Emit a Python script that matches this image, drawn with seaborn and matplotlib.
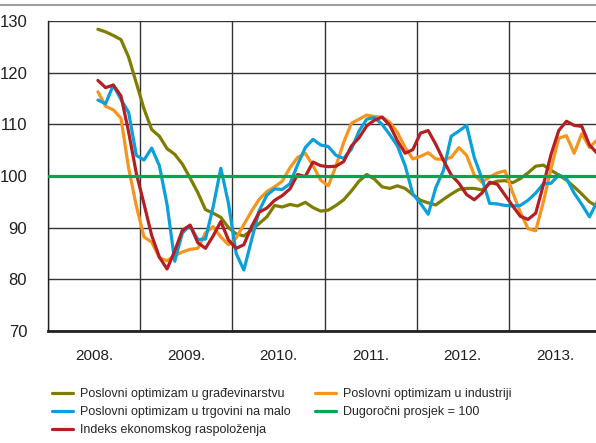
import numpy as np
import pandas as pd
import matplotlib
matplotlib.use("Agg")
import matplotlib.pyplot as plt
from matplotlib.lines import Line2D
from matplotlib.ticker import FixedLocator, NullFormatter
import seaborn as sns

# monthly observations, July 2008 .. December 2013
start_year = 2008
start_month = 7
years = [2008, 2009, 2010, 2011, 2012, 2013]
year_labels = ["2008.", "2009.", "2010.", "2011.", "2012.", "2013."]

construction = [128.4, 127.9, 127.2, 126.4, 123.0, 118.0,
                113.0, 109.0, 107.7, 105.3, 104.2, 102.3, 99.6, 96.8, 93.5, 92.8, 92.0, 90.0,
                88.8, 88.4, 89.5, 90.8, 92.1, 94.3, 94.0, 94.5, 94.2, 94.9, 93.9, 93.2,
                93.4, 94.3, 95.4, 97.1, 99.0, 100.3, 99.4, 97.9, 97.6, 98.1, 97.6, 96.4,
                95.3, 94.8, 94.4, 95.5, 96.5, 97.4, 97.6, 97.6, 97.3, 98.5, 99.0, 99.1,
                98.7, 99.5, 100.6, 101.9, 102.1, 101.1, 100.2, 99.2, 97.9, 96.5, 95.0, 94.1]

industry = [116.3, 113.5, 112.8, 111.2, 101.5, 94.2,
            88.2, 87.2, 84.2, 83.6, 84.6, 85.3, 85.8, 86.0, 89.0, 90.2, 88.2, 86.7,
            88.0, 90.6, 93.2, 95.5, 97.0, 97.9, 99.0, 101.6, 103.6, 104.4, 102.0, 99.2,
            98.1, 102.0, 106.5, 110.2, 111.0, 111.8, 111.5, 111.4, 110.4, 108.4, 105.5, 103.3,
            103.8, 104.5, 103.3, 103.2, 103.6, 105.5, 104.0, 100.2, 98.8, 99.8, 100.6, 101.0,
            96.8, 93.0, 89.8, 89.4, 95.0, 101.5, 107.3, 107.8, 104.4, 108.2, 105.5, 107.0]

retail = [114.7, 114.0, 117.6, 114.8, 112.3, 104.0,
          103.1, 105.4, 102.0, 94.5, 83.5, 89.0, 90.4, 87.7, 87.8, 94.0, 101.5, 94.7,
          85.0, 81.8, 87.6, 93.3, 96.3, 97.5, 97.4, 98.5, 102.2, 105.5, 107.1, 106.0,
          105.7, 104.0, 103.4, 105.2, 108.7, 111.0, 111.3, 110.0, 108.0, 105.8, 102.0, 96.5,
          94.7, 92.6, 97.8, 101.1, 107.7, 108.7, 109.8, 103.6, 99.5, 94.7, 94.6, 94.3,
          94.2, 94.3, 95.3, 96.7, 98.5, 98.6, 100.2, 99.5, 96.7, 94.5, 92.1, 95.0]

sentiment = [118.5, 117.1, 117.6, 115.5, 108.5, 100.5,
             94.6, 88.5, 84.3, 82.0, 85.5, 89.5, 90.5, 87.1, 86.0, 88.4, 91.2, 87.6,
             86.0, 86.7, 90.2, 93.0, 93.8, 95.3, 96.2, 97.5, 100.3, 99.9, 102.7, 102.0,
             101.8, 101.9, 102.8, 105.8, 107.4, 109.7, 110.8, 111.4, 109.8, 106.8, 104.4, 105.1,
             108.3, 108.8, 106.1, 103.0, 100.2, 98.6, 96.4, 95.4, 96.7, 98.8, 98.4, 96.3,
             94.2, 92.2, 91.6, 92.8, 98.3, 104.2, 108.8, 110.6, 109.8, 109.6, 106.0, 104.4]

long_term_avg = 100

labels = ["Poslovni optimizam u građevinarstvu",
          "Poslovni optimizam u industriji",
          "Poslovni optimizam u trgovini na malo",
          "Indeks ekonomskog raspoloženja"]
avg_label = "Dugoročni prosjek = 100"
colors = ["#7f7d00", "#f7941d", "#0aa0dc", "#b41f24"]
avg_color = "#00a651"

# time axis in fractional years, points at mid-month
n = len(construction)
t = start_year + (np.arange(n) + start_month - 1 + 0.5) / 12

df = pd.DataFrame({"t": np.tile(t, 4),
                   "value": construction + industry + retail + sentiment,
                   "series": np.repeat(labels, n)})

sns.set_style("white")
plt.rcParams["font.family"] = ["Liberation Sans", "DejaVu Sans"]

fig = plt.figure(figsize=(5.96, 4.43), dpi=100)
ax = fig.add_axes([48 / 596, 1 - 331 / 443, 553 / 596, 310 / 443])

for i, lab in enumerate(labels):
    sub = df[df["series"] == lab]
    sns.lineplot(data=sub, x="t", y="value", color=colors[i], lw=2.3,
                 ax=ax, label=lab, legend=False, zorder=3 + i)
ax.axhline(long_term_avg, color=avg_color, lw=2.3, zorder=8, label=avg_label)

ax.set_xlim(years[0], years[-1] + 1)
ax.set_ylim(70, 130)
ax.set_yticks(np.arange(70, 131, 10))
ax.xaxis.set_major_locator(FixedLocator(np.arange(years[0], years[-1] + 2)))
ax.xaxis.set_major_formatter(NullFormatter())
ax.set_xticks(np.array(years) + 0.5, minor=True)
ax.set_xticklabels(year_labels, minor=True)
ax.tick_params(axis="both", which="both", length=0, labelsize=11, colors="#231f20")
ax.tick_params(axis="y", labelsize=12, pad=15)
ax.tick_params(axis="x", which="minor", pad=13)
ax.grid(True, which="major", color="#333333", lw=1.0)
ax.set_axisbelow(True)
ax.set_xlabel("")
ax.set_ylabel("")
for side in ["top", "right"]:
    ax.spines[side].set_visible(False)
ax.spines["left"].set_color("#231f20")
ax.spines["left"].set_linewidth(1.0)
ax.spines["bottom"].set_color("#231f20")
ax.spines["bottom"].set_linewidth(2.0)

# rule across the top of the figure
fig.add_artist(Line2D([0, 1], [1 - 5 / 443, 1 - 5 / 443], color="#9d9d9d", lw=1.5))

handles, labs = ax.get_legend_handles_labels()
lookup = dict(zip(labs, handles))
order = [labels[0], labels[2], labels[3], labels[1], avg_label]
leg_handles = [Line2D([], [], color=lookup[k].get_color(), lw=2.3) for k in order]
fig.legend(leg_handles, order, ncol=2, loc="upper left",
           bbox_to_anchor=(52 / 596, 1 - 388 / 443), frameon=False,
           fontsize=9, handlelength=1.7, handletextpad=0.5,
           labelspacing=0.5, columnspacing=2.0, borderaxespad=0, borderpad=0)

fig.savefig("out.png", dpi=100)
